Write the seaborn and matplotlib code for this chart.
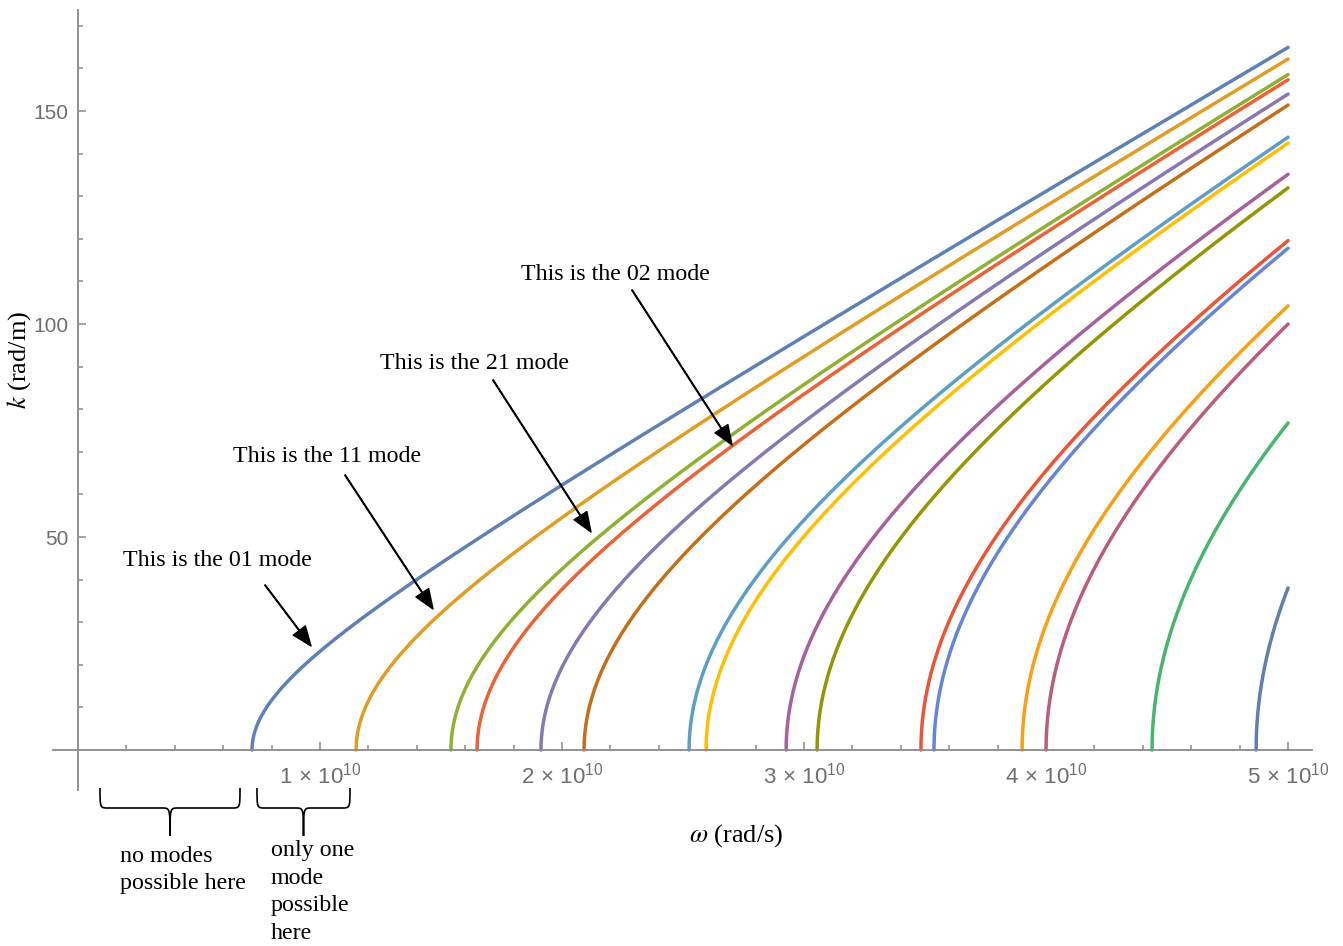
import numpy as np
import pandas as pd
import matplotlib
matplotlib.use("Agg")
import matplotlib.pyplot as plt
from matplotlib.path import Path
from matplotlib.patches import PathPatch
import matplotlib.ticker as mticker
import seaborn as sns

sns.set_style("white")
plt.rcParams['font.family'] = ['Liberation Serif', 'DejaVu Serif']
plt.rcParams['text.color'] = 'black'
plt.rcParams['mathtext.fontset'] = 'custom'
plt.rcParams['mathtext.rm'] = 'Liberation Sans'
plt.rcParams['mathtext.it'] = 'Liberation Sans:italic'

cutoffs = [0.719e10, 1.149e10, 1.541e10, 1.649e10, 1.913e10, 2.091e10, 2.525e10, 2.595e10,
           2.926e10, 3.054e10, 3.483e10, 3.537e10, 3.901e10, 4.000e10, 4.438e10, 4.868e10]
colors = ['#5E81B5', '#E19C24', '#8FB032', '#EB6235', '#8778B3', '#C56E1A', '#5D9EC7', '#FFBF00',
          '#A5609D', '#929600', '#E95536', '#6685D9', '#F89F13', '#BC5B80', '#47B66D', '#5F7FB0']
w_max = 5e10
c0 = 3e8

x_major = [1e10, 2e10, 3e10, 4e10, 5e10]
y_major = [50, 100, 150]

# dispersion curves k = sqrt(w^2 - wc^2) / c, sampled along k so the vertical start is smooth
rows = []
for i, wc in enumerate(cutoffs):
    kmax = np.sqrt(w_max**2 - wc**2) / c0
    k = np.linspace(0, kmax, 400)
    w = np.sqrt(wc**2 + (c0 * k)**2)
    rows.append(pd.DataFrame({'omega': w, 'k': k, 'mode': i}))
df = pd.concat(rows, ignore_index=True)

W, H = 1343, 946
fig = plt.figure(figsize=(W / 100, H / 100), dpi=100)
ax = fig.add_axes([0, 0, 1, 1])

sns.lineplot(data=df, x='omega', y='k', hue='mode', palette=colors, estimator=None,
             sort=False, legend=False, lw=2.5, ax=ax)

ax.set_xlim(-0.3223e10, 5.227e10)
ax.set_ylim(-46.0, 176.06)
ax.set_xlabel('')
ax.set_ylabel('')

for s in ['top', 'right']:
    ax.spines[s].set_visible(False)
ax.spines['left'].set_position(('data', 0))
ax.spines['bottom'].set_position(('data', 0))
ax.spines['left'].set_bounds(-9.4, 173.7)
ax.spines['bottom'].set_bounds(-0.103e10, 5.10e10)
for s in ['left', 'bottom']:
    ax.spines[s].set_color('#8a8a8a')
    ax.spines[s].set_linewidth(1.3)

ax.set_xticks(x_major)
ax.set_yticks(y_major)
ax.xaxis.set_minor_locator(mticker.FixedLocator(
    [v * 1e10 for v in np.arange(0.2, 5.01, 0.2)]))
ax.yaxis.set_minor_locator(mticker.FixedLocator(list(range(10, 171, 10))))
ax.set_xticklabels([r'$%d\,\times\,10^{10}$' % int(v / 1e10) for v in x_major])
ax.set_yticklabels([str(v) for v in y_major])
ax.tick_params(which='both', direction='in', color='#8a8a8a', width=1.1,
               labelcolor='#6e6e6e', bottom=True, left=True)
ax.tick_params(which='major', length=6)
ax.tick_params(which='minor', length=3.6)
ax.tick_params(axis='x', which='major', pad=9, labelsize=16)
ax.tick_params(axis='y', which='major', pad=7, labelsize=15)
for lab in ax.get_yticklabels():
    lab.set_fontfamily(['Liberation Sans'])


def fp(x, y):
    return (x / W, 1 - y / H)


# axis labels
fig.text(*fp(736, 836), r'$\omega$ (rad/s)', ha='center', va='center', fontsize=19,
         math_fontfamily='stix')
fig.text(*fp(19, 360), r'$k$ (rad/m)', ha='center', va='center', fontsize=19,
         rotation=90, math_fontfamily='stix')

# mode annotations
notes = [
    ('This is the 01 mode', (217, 560), (265, 585), (311, 646)),
    ('This is the 11 mode', (327, 456), (345, 475), (433, 609)),
    ('This is the 21 mode', (475, 363), (493, 380), (591, 532)),
    ('This is the 02 mode', (615, 274), (632, 290), (732, 445)),
]
for txt, tpos, a0, a1 in notes:
    fig.text(*fp(*tpos), txt, ha='center', va='center', fontsize=17.3)
    ax.annotate('', xy=fp(*a1), xytext=fp(*a0), xycoords='figure fraction',
                textcoords='figure fraction',
                arrowprops=dict(facecolor='black', edgecolor='black', width=0.5,
                                headwidth=11, headlength=14, shrink=0))


# curly braces under the axis
def brace(x0, x1, ytop, ybot, ytip):
    xm = (x0 + x1) / 2
    r = 8
    verts = [
        (x0, ytop), (x0, ybot), (x0, ybot), (x0 + r, ybot),
        (xm - r, ybot),
        (xm, ybot), (xm, ybot), (xm, ytip),
        (xm, ytip),
        (xm, ybot), (xm, ybot), (xm + r, ybot),
        (x1 - r, ybot),
        (x1, ybot), (x1, ybot), (x1, ytop),
    ]
    codes = [Path.MOVETO, Path.CURVE4, Path.CURVE4, Path.CURVE4,
             Path.LINETO,
             Path.CURVE4, Path.CURVE4, Path.CURVE4,
             Path.MOVETO,
             Path.CURVE4, Path.CURVE4, Path.CURVE4,
             Path.LINETO,
             Path.CURVE4, Path.CURVE4, Path.CURVE4]
    verts = [fp(x, y) for x, y in verts]
    fig.patches.append(PathPatch(Path(verts, codes), fc='none', ec='black',
                                 lw=1.2, transform=fig.transFigure))


brace(100, 240, 788, 808, 836)
brace(257, 350, 788, 808, 836)

fig.text(*fp(120, 870), 'no modes\npossible here', ha='left', va='center',
         fontsize=17.3, linespacing=1.4)
fig.text(*fp(271, 892), 'only one\nmode\npossible\nhere', ha='left', va='center',
         fontsize=17.3, linespacing=1.4)

fig.savefig('out.png', dpi=100)
